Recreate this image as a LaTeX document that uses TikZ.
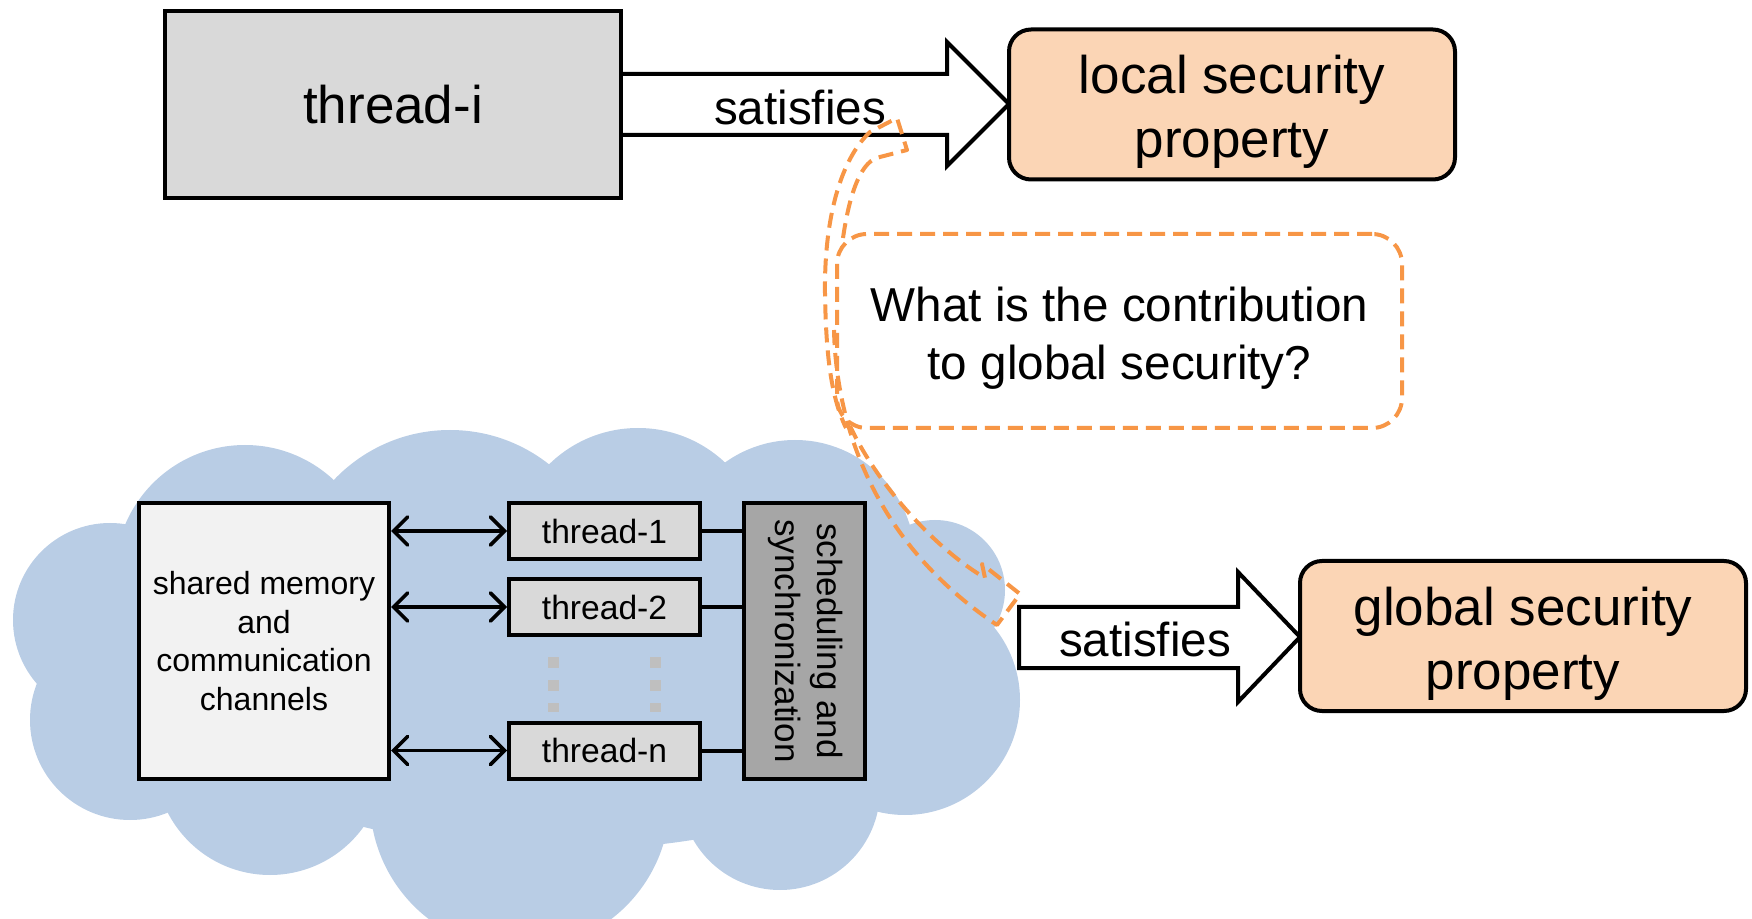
\documentclass[tikz,border=0pt]{standalone}
\usepackage{fontspec}
\setmainfont{Liberation Sans}
\usetikzlibrary{arrows.meta}
\definecolor{cloudblue}{HTML}{B9CDE5}
\definecolor{peach}{HTML}{FBD5B5}
\definecolor{orng}{HTML}{F79646}
\definecolor{lgray}{HTML}{D9D9D9}
\definecolor{vlgray}{HTML}{F2F2F2}
\definecolor{mgray}{HTML}{A6A6A6}
\definecolor{dotgray}{HTML}{BFBFBF}
\tikzset{
  bigbox/.style={draw=black, line width=2pt, fill=lgray, minimum width=228pt, minimum height=93.5pt, inner sep=0pt, font=\fontsize{26.5}{32}\selectfont},
  propbox/.style={draw=black, line width=2pt, fill=peach, rounded corners=11pt, minimum width=223pt, minimum height=75pt, inner sep=0pt},
  proptext/.style={inner sep=0pt, align=center, font=\fontsize{26.5}{32}\selectfont},
  callbox/.style={draw=orng, line width=2pt, dash pattern=on 7.5pt off 4pt, fill=white, rounded corners=15pt, minimum width=282.5pt, minimum height=97pt, inner sep=0pt},
  calltext/.style={inner sep=0pt, align=center, font=\fontsize{23.8}{29}\selectfont},
  tail/.style={draw=orng, line width=2pt, dash pattern=on 7.5pt off 4pt, line join=round},
  blockarrow/.style={draw=black, line width=2pt, fill=white, line join=miter},
  satlabel/.style={inner sep=0pt, font=\fontsize{23.8}{28}\selectfont},
  memorybox/.style={draw=black, line width=2pt, fill=vlgray, minimum width=125pt, minimum height=138pt, inner sep=0pt, align=center, font=\fontsize{16}{19.2}\selectfont},
  threadbox/.style={draw=black, line width=2pt, fill=lgray, minimum width=95.5pt, minimum height=28pt, inner sep=0pt, font=\fontsize{16.8}{20}\selectfont},
  schedbox/.style={draw=black, line width=2pt, fill=mgray, minimum width=60.5pt, minimum height=138pt, inner sep=0pt, font=\fontsize{17.5}{21}\selectfont},
  dbl/.style={line width=1.8pt, {Straight Barb[length=7pt,width=14pt,line cap=round]}-{Straight Barb[length=7pt,width=14pt,line cap=round]}},
  plain/.style={line width=2pt},
  dots/.style={draw=dotgray, line width=5.5pt, dash pattern=on 5.5pt off 6pt}
}
\begin{document}
\begin{tikzpicture}[x=0.5pt,y=-0.5pt]
\useasboundingbox (0,0) rectangle (1752,919);

% cloud
\begin{scope}[fill=cloudblue]
\fill (110,620) circle [radius=48.5pt];
\fill (130,720) circle [radius=50pt];
\fill (270,760) circle [radius=57.5pt];
\fill (520,800) circle [radius=75pt];
\fill (780,790) circle [radius=50pt];
\fill (905,700) circle [radius=57.5pt];
\fill (935,590) circle [radius=35pt];
\fill (795,560) circle [radius=60pt];
\fill (638,555) circle [radius=63.5pt];
\fill (450,590) circle [radius=80pt];
\fill (245,575) circle [radius=65pt];
\fill (560,680) ellipse [x radius=195pt, y radius=85pt];
\end{scope}

% top row
\draw[blockarrow] (600,74) -- (947,74) -- (947,42) -- (1009,104) -- (947,166) -- (947,135) -- (600,135) -- cycle;
\node[bigbox] (ti) at (393,104.5) {thread-i};
\node[propbox] (lp) at (1232,104.5) {};
\node[proptext, yshift=-3.5pt] (lpt) at (lp) {local security\\property};
\node[satlabel] (s1) at (800,107) {satisfies};

% bottom row
\draw[blockarrow] (1019,607) -- (1238,607) -- (1238,572) -- (1300,637) -- (1238,702) -- (1238,668) -- (1019,668) -- cycle;
\node[propbox] (gp) at (1523,636) {};
\node[proptext, yshift=-4pt] (gpt) at (gp) {global security\\property};
\node[satlabel] (s2) at (1145,639) {satisfies};

% system
\node[memorybox] (mem) at (264,641) {shared memory\\and\\communication\\channels};
\node[threadbox] (t1) at (604.5,531) {thread-1};
\node[threadbox] (t2) at (604.5,607) {thread-2};
\node[threadbox] (tn) at (604.5,750.5) {thread-n};
\node[schedbox] (sch) at (804.5,641) {\rotatebox{-90}{\begin{tabular}{@{}c@{}}scheduling and\\synchronization\end{tabular}}};

\draw[dbl] (mem.east |- t1.west) -- (t1.west);
\draw[dbl] (mem.east |- t2.west) -- (t2.west);
\draw[dbl] (mem.east |- tn.west) -- (tn.west);
\draw[plain] (t1.east) -- (t1.east -| sch.west);
\draw[plain] (t2.east) -- (t2.east -| sch.west);
\draw[plain] (tn.east) -- (tn.east -| sch.west);

\coordinate (d1a) at (553,657); \coordinate (d1b) at (553,712);
\coordinate (d2a) at (655,657); \coordinate (d2b) at (655,712);
\draw[dots] (d1a) -- (d1b);
\draw[dots] (d2a) -- (d2b);

% callout
\node[callbox] (q) at (1119.5,331) {};
\node[calltext, yshift=-3.5pt] (qt) at (q) {What is the contribution\\to global security?};
\draw[tail] (843,238) .. controls (850,190) and (862,160) .. (880,157) -- (907,150) -- (897,118) -- (870,132)
  .. controls (840,160) and (824,220) .. (825,294) .. controls (826,350) and (830,395) .. (846,428);
\draw[tail] (834,330) .. controls (836,420) and (870,540) .. (997,625) -- (1020,594) -- (982,564) -- (985,578)
  .. controls (930,545) and (875,480) .. (850,426);
\end{tikzpicture}
\end{document}
